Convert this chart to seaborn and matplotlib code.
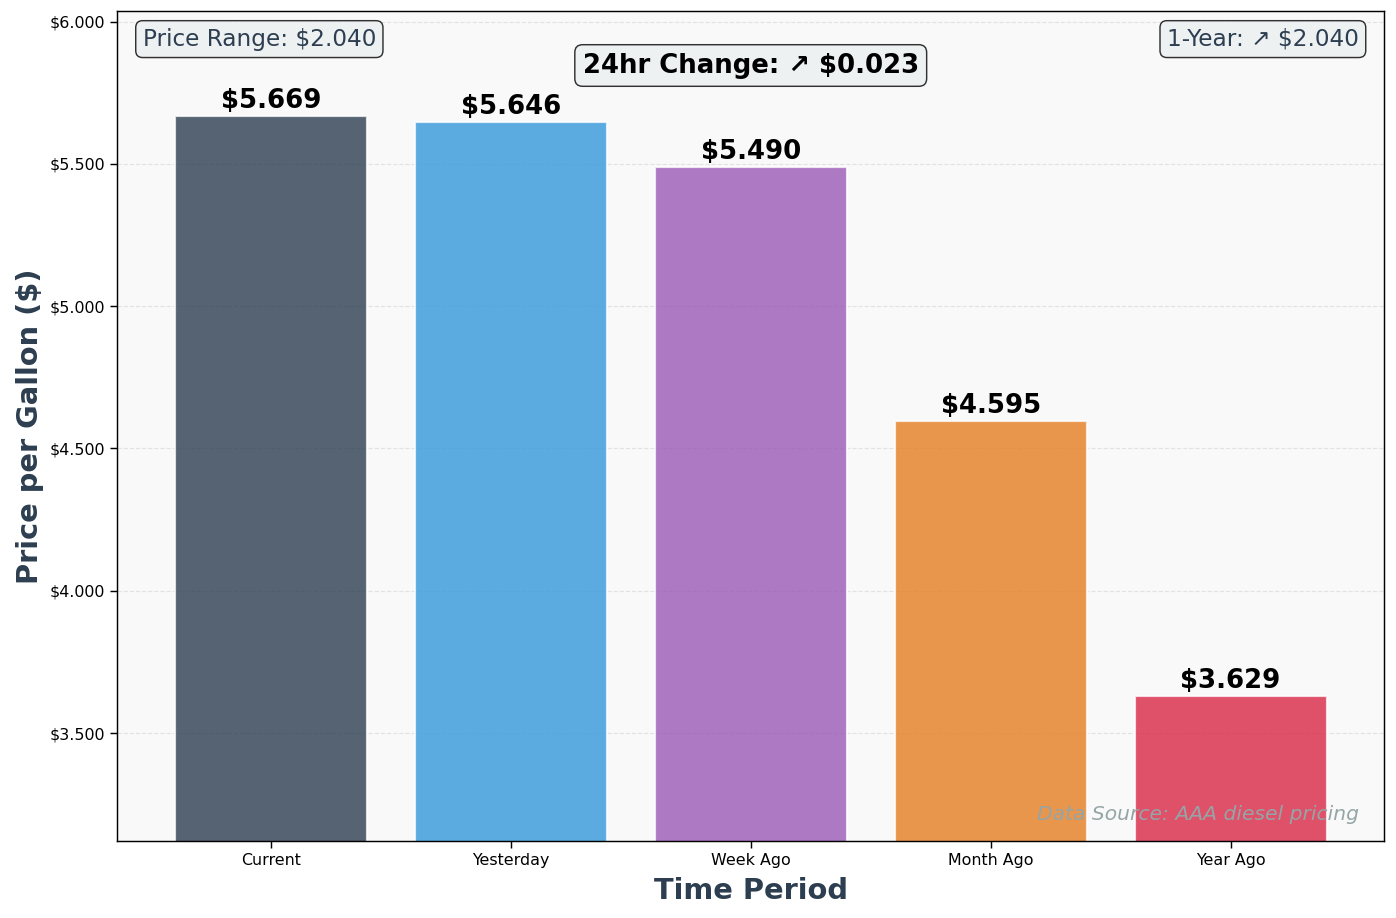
import pandas as pd
import matplotlib
matplotlib.use("Agg")
import matplotlib.pyplot as plt
import seaborn as sns
from matplotlib.ticker import FuncFormatter

# datos del grafico
periodos = ["Current", "Yesterday", "Week Ago", "Month Ago", "Year Ago"]
precios = [5.669, 5.646, 5.490, 4.595, 3.629]
colores = ["#2c3e50", "#3498db", "#9b59b6", "#e67e22", "#d92645"]

df = pd.DataFrame({"periodo": periodos, "precio": precios})

sns.set_style("white")
plt.rcParams["font.family"] = ["DejaVu Sans"]

fig, ax = plt.subplots(figsize=(13.43, 8.827), dpi=104)
ax.set_facecolor("#f9f9f9")

sns.barplot(data=df, x="periodo", y="precio", hue="periodo", palette=colores,
            saturation=1, alpha=0.8, edgecolor="white", linewidth=1.5, width=0.8,
            legend=False, ax=ax)

# etiquetas de valor
for i, v in enumerate(precios):
    ax.text(i, v + 0.008, f"${v:.3f}", ha="center", va="bottom",
            fontsize=18, fontweight="bold", color="black")

ax.set_xlim(-0.64, len(periodos) - 0.36)
ax.set_ylim(min(precios) * 0.86, max(precios) * 1.065)
ax.yaxis.set_major_formatter(FuncFormatter(lambda y, p: f"${y:.3f}"))
ax.grid(axis="y", linestyle="--", color="#b0b0b0", alpha=0.3)
ax.set_axisbelow(True)

ax.set_xlabel("Time Period", fontsize=20, fontweight="bold", color="#2c3e50", labelpad=6)
ax.set_ylabel("Price per Gallon ($)", fontsize=20, fontweight="bold", color="#2c3e50")
ax.tick_params(axis="both", labelsize=11, length=5, width=1, color="black",
               labelcolor="black", left=True, bottom=True)
for s in ax.spines.values():
    s.set_color("black")
    s.set_linewidth(1)

caja = dict(boxstyle="round,pad=0.3", facecolor="#ecf0f1", edgecolor="black", alpha=0.8)

rango = max(precios) - min(precios)
ax.text(0.02, 0.98, f"Price Range: ${rango:.3f}", transform=ax.transAxes,
        ha="left", va="top", fontsize=16, color="#2c3e50", bbox=caja)

cambio = precios[0] - precios[1]
ax.text(0.5, 0.95, f"24hr Change: \u2197 ${cambio:.3f}", transform=ax.transAxes,
        ha="center", va="top", fontsize=18, fontweight="bold", color="black", bbox=caja)

anual = precios[0] - precios[-1]
ax.text(0.98, 0.98, f"1-Year: \u2197 ${anual:.3f}", transform=ax.transAxes,
        ha="right", va="top", fontsize=16, color="#2c3e50", bbox=caja)

ax.text(0.98, 0.02, "Data Source: AAA diesel pricing", transform=ax.transAxes,
        ha="right", va="bottom", fontsize=14, style="italic", color="#95a5a6")

fig.subplots_adjust(left=0.084, right=0.991, top=0.988, bottom=0.084)
plt.savefig("out.png", dpi=104)
